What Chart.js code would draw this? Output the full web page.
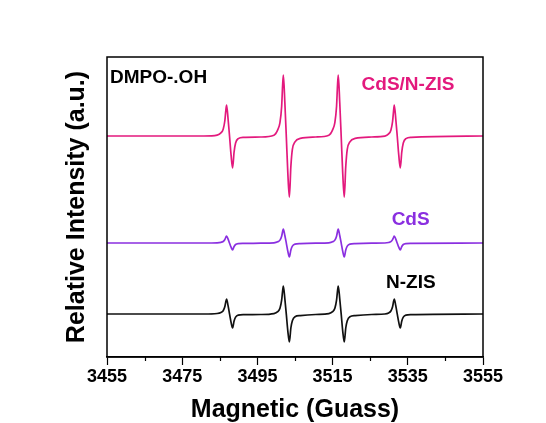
<!DOCTYPE html>
<html>
<head>
<meta charset="utf-8">
<script src="https://cdn.jsdelivr.net/npm/chart.js@4.4.1/dist/chart.umd.min.js"></script>
<style>
  html, body { margin: 0; padding: 0; background: #ffffff; }
  #wrap { width: 546px; height: 423px; }
</style>
</head>
<body>
<div id="wrap"><canvas id="c" width="546" height="423"></canvas></div>
<script>
// Magnetic field (Gauss)
const field = [3455,
  3480.8, 3484.3, 3485.3, 3485.9, 3486.35, 3486.6, 3486.8, 3487.2, 3487.6, 3488.0, 3488.4, 3488.8, 3489.2, 3489.9, 3491.3,
  3495.9, 3499.4, 3500.4, 3501.0, 3501.45, 3501.7, 3501.9, 3502.3, 3502.7, 3503.1, 3503.5, 3503.9, 3504.3, 3505.0, 3506.4,
  3510.5, 3514.0, 3515.0, 3515.6, 3516.05, 3516.3, 3516.5, 3516.9, 3517.3, 3517.7, 3518.1, 3518.5, 3518.9, 3519.6, 3521.0,
  3525.4, 3528.9, 3529.9, 3530.5, 3530.95, 3531.2, 3531.4, 3531.8, 3532.2, 3532.6, 3533.0, 3533.4, 3533.8, 3534.5, 3535.9,
  3555];

// Relative intensity (offset traces)
const cdsNzis = [221,
  221, 221.9, 224.1, 227.8, 236.5, 246.4, 252, 238, 220.5, 201.8, 189, 205, 214, 218.4, 219.7,
  220, 221.8, 227.1, 234.4, 250.5, 271, 282, 254.5, 219.5, 183.4, 160, 190.5, 207.6, 215.1, 218.6,
  220, 221.8, 227.1, 234.4, 250.5, 271, 282, 254.5, 219.5, 183.4, 160, 190.5, 207.6, 215.1, 218.6,
  220, 220.9, 223.1, 226.8, 235.5, 245.4, 252, 238, 220.5, 201.8, 189, 205, 214, 218.4, 219.7,
  221];

const cds = [114,
  114, 114.2, 114.7, 115.5, 117.5, 119.7, 121, 117.9, 113.8, 109.8, 107, 110.5, 112.5, 113.4, 113.6,
  113.8, 114.2, 115.2, 116.9, 120.8, 125.3, 128, 121.5, 113.7, 105.6, 100, 107, 110.9, 112.9, 113.4,
  113.8, 114.2, 115.2, 116.9, 120.8, 125.3, 128, 121.5, 113.7, 105.6, 100, 107, 110.9, 112.9, 113.4,
  113.8, 114, 114.5, 115.3, 117.3, 119.5, 121, 117.9, 113.8, 109.8, 107, 110.5, 112.5, 113.4, 113.6,
  114];

const nzis = [43,
  43, 43.5, 44.5, 46.3, 50.5, 55.3, 58, 51.3, 42.8, 34.6, 29, 36, 39.9, 41.9, 42.4,
  42.5, 43.4, 45.3, 48.8, 56.8, 65.9, 71, 58.2, 42.3, 25.7, 15, 29, 36.3, 40.3, 41.4,
  42.5, 43.4, 45.3, 48.8, 56.8, 65.9, 71, 58.2, 42.3, 25.7, 15, 29, 36.3, 40.3, 41.4,
  42.5, 43, 44, 46, 50.3, 55.2, 58, 51.3, 42.8, 34.6, 29, 36, 39.9, 41.9, 42.4,
  43];

const xTicks = [3455, 3475, 3495, 3515, 3535, 3555];
const xMinorTicks = [3465, 3485, 3505, 3525, 3545];
const seriesNames = ['CdS/N-ZIS', 'CdS', 'N-ZIS'];
const noteText = 'DMPO-.OH';

const COLORS = ['#e3197d', '#8a2fe0', '#111111'];
const FONT = "'Liberation Sans', Arial, sans-serif";

function pts(ys) { return field.map((x, i) => ({ x: x, y: ys[i] })); }

const labelPlugin = {
  id: 'extras',
  afterDraw(chart) {
    const ctx = chart.ctx;
    const a = chart.chartArea;
    const xs = chart.scales.x, ys = chart.scales.y;
    ctx.save();
    // frame
    ctx.strokeStyle = '#000';
    ctx.lineWidth = 1.5;
    ctx.strokeRect(a.left, a.top, a.right - a.left, a.bottom - a.top);
    // minor ticks
    ctx.lineWidth = 1.2;
    xMinorTicks.forEach(v => {
      const px = Math.round(xs.getPixelForValue(v)) + 0.5;
      ctx.beginPath();
      ctx.moveTo(px, a.bottom);
      ctx.lineTo(px, a.bottom + 4);
      ctx.stroke();
    });
    // labels
    ctx.font = 'bold 19px ' + FONT;
    ctx.textBaseline = 'alphabetic';
    ctx.textAlign = 'left';
    const labels = [
      [noteText, 3455.8, 274, '#000000'],
      [seriesNames[0], 3522.7, 267, COLORS[0]],
      [seriesNames[1], 3530.7, 132, COLORS[1]],
      [seriesNames[2], 3529.2, 69, '#000000']
    ];
    labels.forEach(([t, x, y, c]) => {
      ctx.fillStyle = c;
      ctx.fillText(t, xs.getPixelForValue(x), ys.getPixelForValue(y));
    });
    ctx.restore();
  }
};

new Chart(document.getElementById('c'), {
  type: 'scatter',
  data: {
    datasets: [
      { label: seriesNames[0], data: pts(cdsNzis), borderColor: COLORS[0] },
      { label: seriesNames[1], data: pts(cds), borderColor: COLORS[1] },
      { label: seriesNames[2], data: pts(nzis), borderColor: COLORS[2] }
    ].map(d => Object.assign(d, {
      showLine: true, pointRadius: 0, borderWidth: 1.7,
      cubicInterpolationMode: 'monotone', fill: false
    }))
  },
  options: {
    responsive: false,
    devicePixelRatio: 1,
    animation: false,
    layout: { padding: { left: 0, right: 63, top: 57, bottom: 0 } },
    plugins: { legend: { display: false }, tooltip: { enabled: false } },
    scales: {
      x: {
        type: 'linear', min: 3455, max: 3555,
        afterBuildTicks: s => { s.ticks = xTicks.map(v => ({ value: v })); },
        afterFit: s => { s.height = 66; },
        grid: { drawOnChartArea: false, drawTicks: true, tickLength: 8, tickColor: '#000', tickWidth: 1.2 },
        border: { display: true, color: '#000', width: 1.5 },
        ticks: { color: '#000', font: { family: FONT, size: 18, weight: 'bold' }, padding: 1, maxRotation: 0, autoSkip: false,
                 callback: v => String(v) },
        title: { display: true, text: 'Magnetic (Guass)', color: '#000',
                 font: { family: FONT, size: 25, weight: 'bold', lineHeight: 1 }, padding: { top: 0, bottom: 0 } }
      },
      y: {
        type: 'linear', min: 0, max: 300,
        afterFit: s => { s.width = 107; },
        grid: { display: false, drawTicks: false },
        border: { display: false },
        ticks: { display: false },
        title: { display: true, text: 'Relative Intensity (a.u.)', color: '#000',
                 font: { family: FONT, size: 25, weight: 'bold', lineHeight: 1 }, padding: { top: 65, bottom: 0 } }
      }
    }
  },
  plugins: [labelPlugin]
});
</script>
</body>
</html>
